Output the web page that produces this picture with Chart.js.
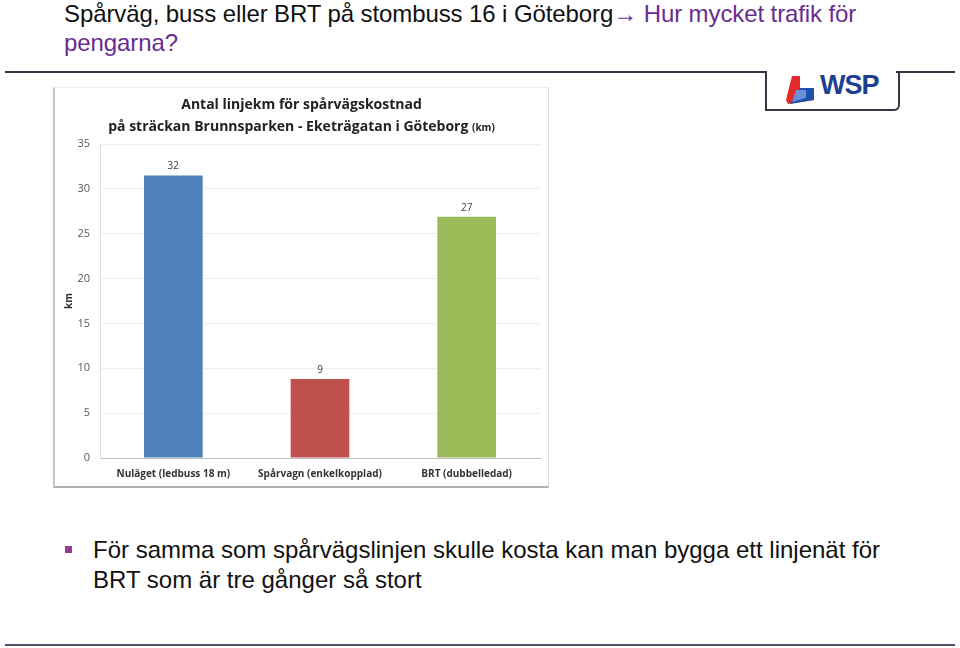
<!DOCTYPE html>
<html lang="sv">
<head>
<meta charset="utf-8">
<script src="https://cdn.jsdelivr.net/npm/chart.js@4"></script>
<style>
  body { margin: 0; background: #fff; width: 960px; height: 648px; position: relative; overflow: hidden; font-family: "Liberation Sans", Arial, sans-serif; }
  .title { position: absolute; left: 64px; top: -1px; font-size: 24px; line-height: 29px; color: #111; width: 820px; letter-spacing: -0.1px; }
  .title .lila { color: #6a2c91; }
  .rule { position: absolute; background: #3d3148; }
  .logo { position: absolute; left: 765px; top: 71px; width: 131px; height: 38px; border: 2px solid #3d3148; border-top: none; border-radius: 0 0 6px 0; }
  .wsp { position: absolute; left: 820px; top: 70px; font: bold 27px "Liberation Sans", Arial, sans-serif; color: #1e3f8f; letter-spacing: -1px; }
  .chartbox { position: absolute; left: 53px; top: 87px; width: 493px; height: 398px; border-left: 2px solid #c8c8c8; border-bottom: 2px solid #b0b0b0; border-right: 1px solid #dcdcdc; border-top: 1px solid #eee; }
  .bullet { position: absolute; left: 93px; top: 535px; font-size: 24px; line-height: 30px; color: #111; width: 800px; }
  .sq { position: absolute; left: 65px; top: 546px; width: 7px; height: 7px; background: #9b3b8c; }
</style>
</head>
<body>
<div class="title">Spårväg, buss eller BRT på stombuss 16 i Göteborg<span class="lila">&#x2192; Hur mycket trafik för pengarna?</span></div>
<div class="rule" style="left:5px; top:71px; width:762px; height:2px;"></div>
<div class="rule" style="left:896px; top:71px; width:59px; height:2px;"></div>
<div class="logo"></div>
<svg style="position:absolute; left:784px; top:74px;" width="36" height="32" viewBox="0 0 36 32">
  <polygon points="8,2 16,2 16,14 30,14 30,26 4,30 2,26" fill="#e32b2b"/>
  <polygon points="16,14 30,14 30,26 6,30" fill="#2050b0"/>
  <polygon points="12,16 22,16 22,24 8,28" fill="#6a8fd8"/>
</svg>
<div class="wsp">WSP</div>

<div class="chartbox"><canvas id="c" width="493" height="398"></canvas></div>

<div class="sq"></div>
<div class="bullet">För samma som spårvägslinjen skulle kosta kan man bygga ett linjenät för BRT som är tre gånger så stort</div>
<div class="rule" style="left:5px; top:644px; width:950px; height:2px; background:#5b4b6b;"></div>

<script>
const categories = ['Nuläget (ledbuss 18 m)', 'Spårvagn (enkelkopplad)', 'BRT (dubbelledad)'];
const linjekm = [31.5, 8.8, 26.9];
const barColors = ['#4f81bd', '#c0504d', '#9bbb59'];
const yTicks = [0, 5, 10, 15, 20, 25, 30, 35];
const titleLine1 = 'Antal linjekm för spårvägskostnad';
const titleLine2 = 'på sträckan Brunnsparken - Eketrägatan i Göteborg';
const titleUnit = '(km)';

const FONT = '"Open Sans", sans-serif';

// titel med mindre "(km)"
const chartTitle = {
  id: 'chartTitle',
  afterDraw(chart) {
    const ctx = chart.ctx;
    const cx = chart.width / 2;
    ctx.save();
    ctx.fillStyle = '#222';
    ctx.textBaseline = 'middle';
    ctx.font = 'bold 14px ' + FONT;
    ctx.textAlign = 'center';
    ctx.fillText(titleLine1, cx, 17);
    const w2 = ctx.measureText(titleLine2 + ' ').width;
    ctx.font = 'bold 10px ' + FONT;
    const wu = ctx.measureText(titleUnit).width;
    const x0 = cx - (w2 + wu) / 2;
    ctx.textAlign = 'left';
    ctx.font = 'bold 14px ' + FONT;
    ctx.fillText(titleLine2 + ' ', x0, 39);
    ctx.font = 'bold 10px ' + FONT;
    ctx.fillText(titleUnit, x0 + w2, 40);
    ctx.restore();
  }
};

const valueLabels = {
  id: 'valueLabels',
  afterDatasetsDraw(chart) {
    const ctx = chart.ctx;
    const meta = chart.getDatasetMeta(0);
    ctx.save();
    ctx.font = '10px ' + FONT;
    ctx.fillStyle = '#404040';
    ctx.textAlign = 'center';
    ctx.textBaseline = 'bottom';
    meta.data.forEach((bar, i) => {
      ctx.fillText(Math.round(linjekm[i]), bar.x, bar.y - 4);
    });
    ctx.restore();
  }
};

new Chart(document.getElementById('c'), {
  type: 'bar',
  data: {
    labels: categories,
    datasets: [{
      data: linjekm,
      backgroundColor: barColors,
      barPercentage: 0.4,
      categoryPercentage: 1
    }]
  },
  options: {
    responsive: false,
    animation: false,
    layout: { padding: { left: 0, right: 8, top: 56, bottom: 6 } },
    plugins: {
      legend: { display: false },
      tooltip: { enabled: false },
      title: { display: false }
    },
    scales: {
      x: {
        afterFit: (axis) => { axis.height = 22; },
        grid: { display: false, drawTicks: false },
        border: { color: '#bfbfbf' },
        ticks: { color: '#333', font: { family: FONT, size: 10, weight: 'bold' }, padding: 10 }
      },
      y: {
        min: 0,
        max: 35,
        afterBuildTicks: (axis) => { axis.ticks = yTicks.map(v => ({ value: v })); },
        afterFit: (axis) => { axis.width = 45; },
        grid: { color: '#eeeeee', drawTicks: false },
        border: { color: '#e0e0e0' },
        ticks: { color: '#595959', font: { family: FONT, size: 11 }, padding: 10 },
        title: { display: true, text: 'km', color: '#333', font: { family: FONT, size: 10, weight: 'bold' }, padding: 8 }
      }
    }
  },
  plugins: [valueLabels, chartTitle]
});
</script>
</body>
</html>
